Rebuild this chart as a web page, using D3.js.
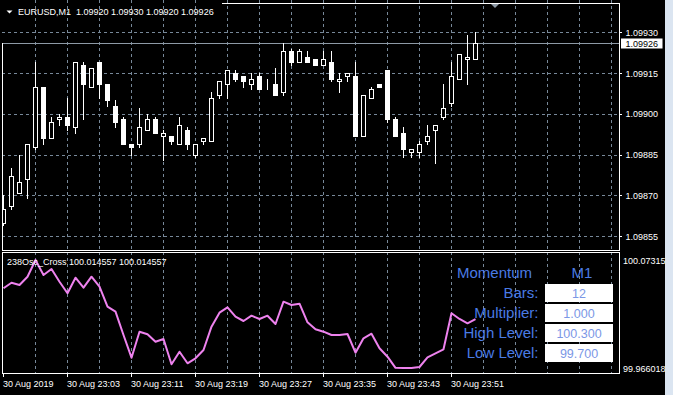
<!DOCTYPE html>
<html lang="en">
<head>
<meta charset="utf-8">
<title>EURUSD,M1</title>
<script src="https://d3js.org/d3.v7.min.js"></script>
<style>
  html, body { margin: 0; padding: 0; background: #000; }
  svg { display: block; }
  text { font-family: "Liberation Sans", Arial, sans-serif; }
</style>
</head>
<body>
<script>
// bar data, one entry per minute (oldest first)
var opens  = [1.09860,1.09866,1.09871,1.09876,1.09888,1.09910,1.09891,1.09898,1.09899,1.09895,
              1.09918,1.09910,1.09919,1.09911,1.09903,1.09898,1.09889,1.09889,1.09894,1.09898,
              1.09892,1.09892,1.09889,1.09894,1.09885,1.09890,1.09890,1.09907,1.09911,1.09915,
              1.09914,1.09911,1.09914,1.09910,1.09911,1.09908,1.09923,1.09919,1.09921,1.09920,
              1.09918,1.09919,1.09912,1.09914,1.09914,1.09892,1.09906,1.09911,1.09916,1.09898,
              1.09893,1.09886,1.09886,1.09890,1.09894,1.09899,1.09904,1.09913,1.09920,1.09920];
var highs  = [1.09870,1.09880,1.09885,1.09889,1.09919,1.09910,1.09899,1.09900,1.09906,1.09919,
              1.09919,1.09917,1.09919,1.09911,1.09905,1.09899,1.09889,1.09902,1.09900,1.09899,
              1.09894,1.09892,1.09899,1.09895,1.09889,1.09891,1.09908,1.09912,1.09916,1.09916,
              1.09914,1.09915,1.09915,1.09913,1.09917,1.09926,1.09924,1.09924,1.09923,1.09920,
              1.09923,1.09923,1.09915,1.09915,1.09919,1.09907,1.09910,1.09911,1.09916,1.09899,
              1.09895,1.09887,1.09890,1.09896,1.09896,1.09911,1.09919,1.09922,1.09929,1.09930];
var lows   = [1.09859,1.09865,1.09871,1.09869,1.09887,1.09889,1.09891,1.09896,1.09894,1.09893,
              1.09898,1.09910,1.09906,1.09903,1.09895,1.09889,1.09885,1.09888,1.09894,1.09893,
              1.09883,1.09889,1.09889,1.09887,1.09884,1.09889,1.09890,1.09906,1.09906,1.09912,
              1.09910,1.09909,1.09909,1.09909,1.09907,1.09907,1.09918,1.09919,1.09919,1.09918,
              1.09918,1.09912,1.09908,1.09912,1.09892,1.09892,1.09906,1.09910,1.09897,1.09892,
              1.09884,1.09884,1.09884,1.09889,1.09882,1.09898,1.09903,1.09913,1.09911,1.09920];
var closes = [1.09865,1.09877,1.09875,1.09889,1.09910,1.09891,1.09897,1.09899,1.09896,1.09919,
              1.09911,1.09917,1.09911,1.09905,1.09897,1.09889,1.09888,1.09895,1.09898,1.09893,
              1.09893,1.09890,1.09896,1.09889,1.09889,1.09891,1.09906,1.09912,1.09916,1.09913,
              1.09912,1.09913,1.09909,1.09910,1.09907,1.09923,1.09919,1.09923,1.09919,1.09918,
              1.09920,1.09913,1.09913,1.09915,1.09892,1.09907,1.09909,1.09910,1.09898,1.09892,
              1.09887,1.09887,1.09889,1.09892,1.09896,1.09902,1.09914,1.09922,1.09921,1.09926];

// 238Osc_Cross values
var osc = [100.04508,100.05063,100.04835,100.05659,100.07315,100.05827,100.06422,100.05163,100.04012,100.05559,
           100.04567,100.05659,100.04667,100.02683,100.02187,99.99875,99.97624,100.00203,99.99945,99.99211,
           99.99479,99.96969,99.98219,99.97068,99.97564,99.98388,100.00699,100.02088,100.02623,100.01691,
           100.01264,100.01790,100.01463,100.01790,100.00967,100.03179,100.02851,100.02980,100.01135,100.00441,
           100.00203,99.99875,99.99875,99.99975,99.98120,99.99548,100.00004,99.98556,99.97723,99.96620,
           99.96602,99.96610,99.96701,99.97663,99.98060,99.98457,100.02028,100.01463,100.01036,100.014557];

var priceTicks = [1.09930, 1.09915, 1.09900, 1.09885, 1.09870, 1.09855];
var timeTicks  = [0, 8, 16, 24, 32, 40, 48, 56];
var timeLabels = ["30 Aug 2019", "30 Aug 23:03", "30 Aug 23:11", "30 Aug 23:19",
                  "30 Aug 23:27", "30 Aug 23:35", "30 Aug 23:43", "30 Aug 23:51"];
var oscMax = 100.07315, oscMin = 99.966018;
var bid = 1.09926;

var panelLabels = ["Bars:", "Multiplier:", "High Level:", "Low Level:"];
var panelValues = ["12", "1.000", "100.300", "99.700"];

var width = 673, height = 395;
var left = 2, right = 619, mainTop = 3, mainBottom = 250, subTop = 252, subBottom = 373;

var svg = d3.select("body").append("svg")
    .attr("width", width).attr("height", height);

svg.append("rect").attr("width", width).attr("height", height).attr("fill", "#000");

// bar index -> pixel column
var x = d3.scaleLinear().domain([0, 76]).range([3, 611]);
var y = d3.scaleLinear().domain([1.09930, 1.09855]).range([32.3, 236.3]);
var yo = d3.scaleLinear().domain([oscMin, oscMax]).range([368, 260]);

var gridColor = "#778899";
var gridX = d3.range(4, 77, 4);

// grid
var grid = svg.append("g").attr("stroke", gridColor).attr("stroke-dasharray", "3,3")
    .attr("shape-rendering", "crispEdges");
grid.selectAll(".vm").data(gridX).enter().append("line")
    .attr("x1", function(d) { return x(d) + 0.5; }).attr("x2", function(d) { return x(d) + 0.5; })
    .attr("y1", 0).attr("y2", mainBottom);
grid.selectAll(".vs").data(gridX).enter().append("line")
    .attr("x1", function(d) { return x(d) + 0.5; }).attr("x2", function(d) { return x(d) + 0.5; })
    .attr("y1", subTop).attr("y2", subBottom);
grid.selectAll(".h").data(priceTicks).enter().append("line")
    .attr("x1", left).attr("x2", right)
    .attr("y1", function(d) { return Math.round(y(d)) + 0.5; })
    .attr("y2", function(d) { return Math.round(y(d)) + 0.5; });

// bid line
svg.append("line").attr("x1", 0).attr("x2", right)
    .attr("y1", Math.round(y(bid)) + 0.5).attr("y2", Math.round(y(bid)) + 0.5)
    .attr("stroke", "#8e9aa6").attr("shape-rendering", "crispEdges");

// candles
var bars = d3.range(opens.length);
var cg = svg.append("g").attr("shape-rendering", "crispEdges");
cg.selectAll(".wick").data(bars).enter().append("line")
    .attr("x1", function(i) { return x(i) + 0.5; }).attr("x2", function(i) { return x(i) + 0.5; })
    .attr("y1", function(i) { return Math.round(y(highs[i])); })
    .attr("y2", function(i) { return Math.round(y(lows[i])) + 1; })
    .attr("stroke", "#fff");
cg.selectAll(".body").data(bars).enter().append("rect")
    .attr("x", function(i) { return x(i) - 1.5; })
    .attr("width", 4)
    .attr("y", function(i) { return Math.round(y(Math.max(opens[i], closes[i]))) + 0.5; })
    .attr("height", function(i) {
        return Math.round(y(Math.min(opens[i], closes[i]))) - Math.round(y(Math.max(opens[i], closes[i])));
    })
    .attr("fill", function(i) { return closes[i] > opens[i] ? "#000" : "#fff"; })
    .attr("stroke", "#fff");

// clip left edge
svg.append("rect").attr("x", 0).attr("y", 0).attr("width", left).attr("height", height).attr("fill", "#000");

// oscillator
var line = d3.line()
    .x(function(d, i) { return x(i) + 0.5; })
    .y(function(d) { return yo(d); });
svg.append("path").datum(osc).attr("d", line)
    .attr("fill", "none").attr("stroke", "#ee82ee").attr("stroke-width", 2)
    .attr("stroke-linejoin", "round");

// frames
var fr = svg.append("g").attr("stroke", "#fff").attr("shape-rendering", "crispEdges");
fr.append("line").attr("x1", 222).attr("x2", right + 0.5).attr("y1", mainTop + 0.5).attr("y2", mainTop + 0.5);
fr.append("line").attr("x1", left + 0.5).attr("x2", left + 0.5).attr("y1", 43).attr("y2", mainBottom + 0.5);
fr.append("line").attr("x1", right + 0.5).attr("x2", right + 0.5).attr("y1", mainTop).attr("y2", mainBottom + 0.5);
fr.append("line").attr("x1", left).attr("x2", right + 0.5).attr("y1", mainBottom + 0.5).attr("y2", mainBottom + 0.5);
fr.append("rect").attr("x", left + 0.5).attr("y", subTop + 0.5)
    .attr("width", right - left).attr("height", subBottom - subTop).attr("fill", "none");

// shift marker
svg.append("path").attr("d", "M491,4L499,4L495,8Z").attr("fill", "#8e9aa6");

// header
svg.append("path").attr("d", "M6.5,10.5L12.5,10.5L9.5,13.5Z").attr("fill", "#fff");
svg.append("text").attr("x", 18).attr("y", 15).attr("font-size", 9).attr("fill", "#fff")
    .attr("xml:space", "preserve")
    .text("EURUSD,M1  1.09920 1.09930 1.09920 1.09926");
svg.append("text").attr("x", 7).attr("y", 265).attr("font-size", 9).attr("fill", "#fff")
    .text("238Osc_Cross 100.014557 100.014557");

// price axis
var pa = svg.append("g");
pa.selectAll("line").data(priceTicks).enter().append("line")
    .attr("x1", right).attr("x2", right + 3)
    .attr("y1", function(d) { return Math.round(y(d)) + 0.5; })
    .attr("y2", function(d) { return Math.round(y(d)) + 0.5; })
    .attr("stroke", "#fff").attr("shape-rendering", "crispEdges");
pa.selectAll("text").data(priceTicks).enter().append("text")
    .attr("x", 625.5).attr("y", function(d) { return y(d) + 3.5; })
    .attr("font-size", 9).attr("fill", "#fff")
    .text(function(d) { return d.toFixed(5); });
pa.append("rect").attr("x", 621).attr("y", 38.5).attr("width", 41.5).attr("height", 10).attr("fill", "#fff");
pa.append("text").attr("x", 625.5).attr("y", 46.7).attr("font-size", 9).attr("fill", "#000")
    .text(bid.toFixed(5));

// oscillator scale
svg.append("text").attr("x", 623).attr("y", yo(oscMax) + 3.5).attr("font-size", 9).attr("fill", "#fff").text("100.07315");
svg.append("text").attr("x", 623).attr("y", yo(oscMin) + 3.5).attr("font-size", 9).attr("fill", "#fff").text("99.966018");

// time axis
var ta = svg.append("g");
ta.selectAll("line").data(timeTicks).enter().append("line")
    .attr("x1", function(d) { return x(d) + 0.5; }).attr("x2", function(d) { return x(d) + 0.5; })
    .attr("y1", subBottom).attr("y2", subBottom + 4)
    .attr("stroke", "#fff").attr("shape-rendering", "crispEdges");
ta.selectAll("text").data(timeTicks).enter().append("text")
    .attr("x", function(d) { return x(d); }).attr("y", 386.5)
    .attr("font-size", 9).attr("fill", "#fff")
    .text(function(d, i) { return timeLabels[i]; });

// settings panel
var panel = svg.append("g");
panel.append("text").attr("x", 457).attr("y", 277.5).attr("font-size", 15).attr("fill", "#4a7be4").text("Momentum");
panel.append("text").attr("x", 582).attr("y", 277.5).attr("text-anchor", "middle")
    .attr("font-size", 15).attr("fill", "#4a7be4").text("M1");
panel.selectAll(".lbl").data(panelLabels).enter().append("text")
    .attr("x", 538.5).attr("y", function(d, i) { return 298.3 + i * 20; })
    .attr("text-anchor", "end").attr("font-size", 15).attr("fill", "#4a7be4")
    .text(function(d) { return d; });
panel.selectAll(".box").data(panelValues).enter().append("rect")
    .attr("x", 545).attr("y", function(d, i) { return 284 + i * 20; })
    .attr("width", 68).attr("height", 18).attr("fill", "#fff");
panel.selectAll(".val").data(panelValues).enter().append("text")
    .attr("x", 579).attr("y", function(d, i) { return 297.7 + i * 20; })
    .attr("text-anchor", "middle").attr("font-size", 12.5).attr("fill", "#7b97e6")
    .text(function(d) { return d; });

// right strip
svg.append("rect").attr("x", 665).attr("y", 0).attr("width", 8).attr("height", height).attr("fill", "#dbe5f1");
</script>
</body>
</html>
